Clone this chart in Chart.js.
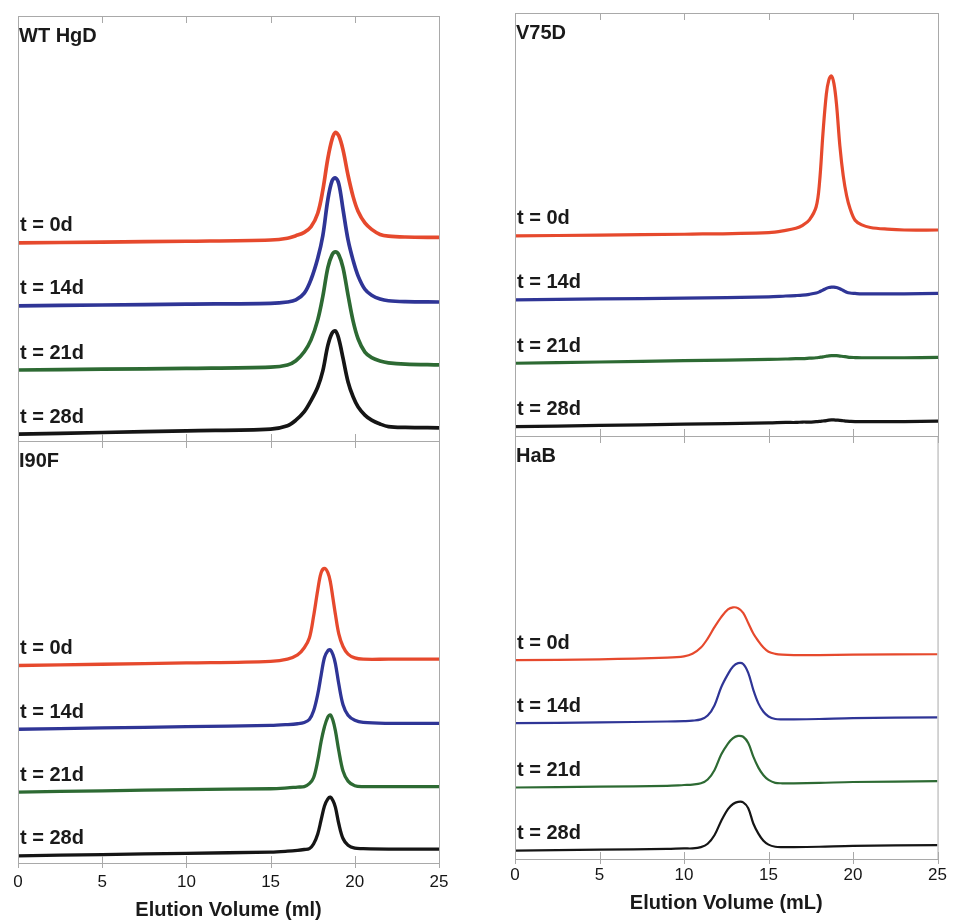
<!DOCTYPE html>
<html>
<head>
<meta charset="utf-8">
<script src="https://cdn.jsdelivr.net/npm/chart.js@4.4.1/dist/chart.umd.min.js"></script>
<style>
  body { margin: 0; background: #fff; width: 953px; height: 923px; position: relative; overflow: hidden; }
  canvas { position: absolute; }
</style>
</head>
<body>
<canvas id="wtChart" width="460" height="441" style="left:0;top:0"></canvas>
<canvas id="i90fChart" width="460" height="482" style="left:0;top:441px"></canvas>
<canvas id="v75dChart" width="473" height="436" style="left:480px;top:0"></canvas>
<canvas id="habChart" width="473" height="487" style="left:480px;top:436px"></canvas>
<script>
const dayLabels = ['t = 0d', 't = 14d', 't = 21d', 't = 28d'];
const volumeTicks = [0, 5, 10, 15, 20, 25];

// WT HgD
const wtVolume = [0, 5, 10, 15, 16, 16.5, 17, 17.4, 17.8, 18.1, 18.4, 18.65, 18.85, 19.05, 19.3, 19.6, 19.9, 20.2, 20.6, 21, 21.5, 22, 23, 25];
const wtDay0  = [46.6, 46.8, 47.0, 47.3, 47.7, 48.3, 49.1, 50.4, 53.6, 59.0, 66.5, 71.0, 72.6, 71.8, 68.5, 62.5, 57.5, 54.0, 51.3, 49.8, 48.6, 48.2, 48.0, 47.9];
const wtDay14 = [31.8, 32.0, 32.2, 32.4, 32.7, 33.2, 34.8, 38.0, 43.0, 48.3, 56.8, 61.2, 61.9, 60.5, 54.5, 47.3, 42.5, 38.8, 35.7, 34.3, 33.4, 33.0, 32.8, 32.7];
const wtDay21 = [16.7, 16.9, 17.1, 17.4, 17.9, 18.9, 21.0, 23.8, 28.5, 34.0, 40.8, 43.8, 44.5, 43.8, 40.8, 34.3, 28.2, 24.0, 20.9, 19.6, 18.8, 18.4, 18.1, 17.9];
const wtDay28 = [1.6, 2.0, 2.4, 2.8, 3.6, 4.9, 6.9, 9.5, 12.7, 16.5, 22.5, 25.4, 25.9, 24.0, 19.5, 13.9, 10.4, 8.0, 6.1, 4.9, 4.0, 3.4, 3.2, 3.1];

// V75D
const v75dVolume = [0, 5, 10, 15, 16, 16.6, 17, 17.4, 17.8, 18.0, 18.2, 18.4, 18.55, 18.7, 18.85, 19.0, 19.2, 19.4, 19.6, 19.8, 20.1, 20.5, 21, 22, 23, 25];
const v75dDay0  = [47.3, 47.5, 47.7, 48.1, 48.6, 49.1, 49.8, 51.1, 54.2, 60.0, 71.5, 80.8, 84.2, 85.1, 83.3, 78.5, 68.6, 61.5, 56.8, 53.8, 51.0, 49.9, 49.3, 48.9, 48.7, 48.7];
const v75dDay14 = [32.2, 32.4, 32.6, 32.9, 33.1, 33.2, 33.3, 33.5, 33.8, 34.1, 34.5, 34.9, 35.1, 35.2, 35.2, 35.1, 34.8, 34.4, 34.0, 33.8, 33.7, 33.6, 33.6, 33.6, 33.6, 33.7];
const v75dDay21 = [17.2, 17.5, 17.8, 18.1, 18.2, 18.3, 18.3, 18.4, 18.5, 18.6, 18.7, 18.85, 18.95, 19.0, 19.0, 19.0, 18.9, 18.8, 18.7, 18.6, 18.55, 18.5, 18.5, 18.5, 18.5, 18.6];
const v75dDay28 = [2.2, 2.5, 2.8, 3.1, 3.2, 3.2, 3.3, 3.3, 3.4, 3.45, 3.55, 3.65, 3.75, 3.8, 3.8, 3.75, 3.7, 3.6, 3.5, 3.45, 3.4, 3.4, 3.4, 3.4, 3.4, 3.5];

// I90F
const i90fVolume = [0, 5, 10, 15, 16, 16.6, 17, 17.3, 17.55, 17.8, 18.0, 18.2, 18.4, 18.55, 18.7, 18.85, 19.05, 19.3, 19.6, 20, 20.5, 22, 25];
const i90fDay0  = [46.8, 47.1, 47.4, 47.8, 48.3, 49.3, 51.0, 53.3, 58.4, 64.7, 68.8, 69.8, 68.8, 66.6, 62.8, 58.9, 54.3, 51.3, 49.5, 48.6, 48.3, 48.3, 48.3];
const i90fDay14 = [31.7, 32.0, 32.3, 32.6, 32.8, 33.0, 33.3, 34.0, 36.0, 40.0, 44.5, 48.7, 50.3, 50.5, 49.4, 47.2, 42.4, 37.5, 35.0, 33.8, 33.3, 33.1, 33.1];
const i90fDay21 = [16.8, 17.1, 17.4, 17.6, 17.8, 18.0, 18.1, 18.8, 20.2, 24.3, 28.8, 32.3, 34.6, 35.1, 33.8, 31.3, 26.6, 21.8, 19.4, 18.3, 18.1, 18.1, 18.1];
const i90fDay28 = [1.7, 2.0, 2.3, 2.6, 2.8, 3.0, 3.2, 3.4, 4.5, 6.9, 10.2, 13.5, 15.2, 15.6, 14.8, 13.2, 9.3, 5.8, 4.2, 3.5, 3.4, 3.3, 3.3];

// HaB
const habVolume = [0, 5, 9, 10, 10.5, 11, 11.4, 11.8, 12.2, 12.6, 12.9, 13.2, 13.5, 13.8, 14.1, 14.4, 14.7, 15.0, 15.4, 15.8, 16.5, 18, 20, 25];
const habDay0  = [47.0, 47.2, 47.6, 47.9, 48.5, 50.0, 52.1, 54.8, 57.2, 59.0, 59.5, 59.3, 58.2, 55.8, 53.3, 51.5, 50.0, 49.0, 48.5, 48.3, 48.2, 48.2, 48.3, 48.4];
const habDay14 = [32.1, 32.3, 32.5, 32.6, 32.7, 33.0, 33.9, 36.3, 40.6, 43.7, 45.5, 46.3, 46.1, 44.0, 40.0, 36.8, 34.8, 33.7, 33.1, 33.0, 33.0, 33.1, 33.3, 33.5];
const habDay21 = [16.9, 17.1, 17.3, 17.5, 17.6, 17.9, 18.8, 21.0, 24.7, 27.3, 28.6, 29.1, 28.9, 27.4, 24.2, 21.6, 19.8, 18.7, 18.0, 17.9, 17.9, 18.0, 18.2, 18.4];
const habDay28 = [2.0, 2.2, 2.4, 2.5, 2.5, 2.8, 3.6, 5.6, 9.0, 11.8, 13.0, 13.5, 13.4, 12.0, 8.4, 6.0, 4.3, 3.4, 2.9, 2.8, 2.8, 2.9, 3.1, 3.3];

const traceColors = ['#e6492d', '#2f3596', '#2d6a33', '#151515'];
const textFont = '"Liberation Sans", Arial, sans-serif';

// frame, inward tick marks, panel name and trace labels
const panelFrame = {
  id: 'panelFrame',
  afterDraw(chart, args, opts) {
    const { ctx, chartArea: a, scales: { x, y } } = chart;
    ctx.save();
    ctx.strokeStyle = '#a9a9a9';
    ctx.lineWidth = 1;
    ctx.strokeRect(a.left + 0.5, a.top + 0.5, a.width, a.height);
    ctx.beginPath();
    volumeTicks.forEach(v => {
      const px = Math.round(x.getPixelForValue(v)) + 0.5;
      ctx.moveTo(px, a.top);
      ctx.lineTo(px, a.top + 7);
      ctx.moveTo(px, a.bottom - 7);
      ctx.lineTo(px, a.bottom + (opts.bottomAxis ? 5 : 0));
    });
    ctx.stroke();

    ctx.fillStyle = '#1a1a1a';
    ctx.font = 'bold 20px ' + textFont;
    ctx.textBaseline = 'middle';
    ctx.textAlign = 'left';
    ctx.fillText(opts.title, a.left + 1, a.top + 20);
    chart.data.datasets.forEach(ds => {
      const py = y.getPixelForValue(ds.data[0].y);
      ctx.fillText(ds.label, a.left + 2, py - 17);
    });
    ctx.restore();
  }
};

function toPoints(vol, vals) {
  return vol.map((v, i) => ({ x: v, y: vals[i] }));
}

function makePanel(id, title, vol, series, cfg) {
  new Chart(document.getElementById(id), {
    type: 'line',
    data: {
      datasets: series.map((vals, i) => ({
        label: dayLabels[i],
        data: toPoints(vol, vals),
        borderColor: traceColors[i],
        borderWidth: cfg.lineWidth,
        pointRadius: 0,
        tension: 0.35,
        fill: false
      }))
    },
    options: {
      responsive: false,
      animation: false,
      layout: { padding: cfg.padding },
      plugins: {
        legend: { display: false },
        tooltip: { enabled: false },
        panelFrame: { title: title, bottomAxis: !!cfg.axisTitle }
      },
      scales: {
        x: {
          type: 'linear',
          min: 0,
          max: 25,
          display: !!cfg.axisTitle,
          grid: { display: false, drawTicks: false },
          border: { display: false },
          ticks: {
            stepSize: 5,
            padding: cfg.tickPad,
            color: '#151515',
            font: { family: textFont, size: 17 }
          },
          title: {
            display: !!cfg.axisTitle,
            text: cfg.axisTitle,
            color: '#1a1a1a',
            font: { family: textFont, size: 20, weight: 'bold' },
            padding: { top: 0, bottom: cfg.titlePad }
          },
          afterFit: cfg.axisHeight ? (s => { s.height = cfg.axisHeight; }) : undefined
        },
        y: { min: 0, max: 100, display: false }
      }
    },
    plugins: [panelFrame]
  });
}

makePanel('wtChart', 'WT HgD', wtVolume, [wtDay0, wtDay14, wtDay21, wtDay28],
  { lineWidth: 3.7, padding: { left: 18, right: 21, top: 16, bottom: 0 } });
makePanel('i90fChart', 'I90F', i90fVolume, [i90fDay0, i90fDay14, i90fDay21, i90fDay28],
  { lineWidth: 3.3, padding: { left: 18, right: 21, top: 0, bottom: 0 },
    axisTitle: 'Elution Volume (ml)', axisHeight: 60, tickPad: 9, titlePad: 1 });
makePanel('v75dChart', 'V75D', v75dVolume, [v75dDay0, v75dDay14, v75dDay21, v75dDay28],
  { lineWidth: 3.2, padding: { left: 35, right: 15, top: 13, bottom: 0 } });
makePanel('habChart', 'HaB', habVolume, [habDay0, habDay14, habDay21, habDay28],
  { lineWidth: 2.2, padding: { left: 35, right: 15, top: 0, bottom: 0 },
    axisTitle: 'Elution Volume (mL)', axisHeight: 64, tickPad: 6, titlePad: 8 });
</script>
</body>
</html>
